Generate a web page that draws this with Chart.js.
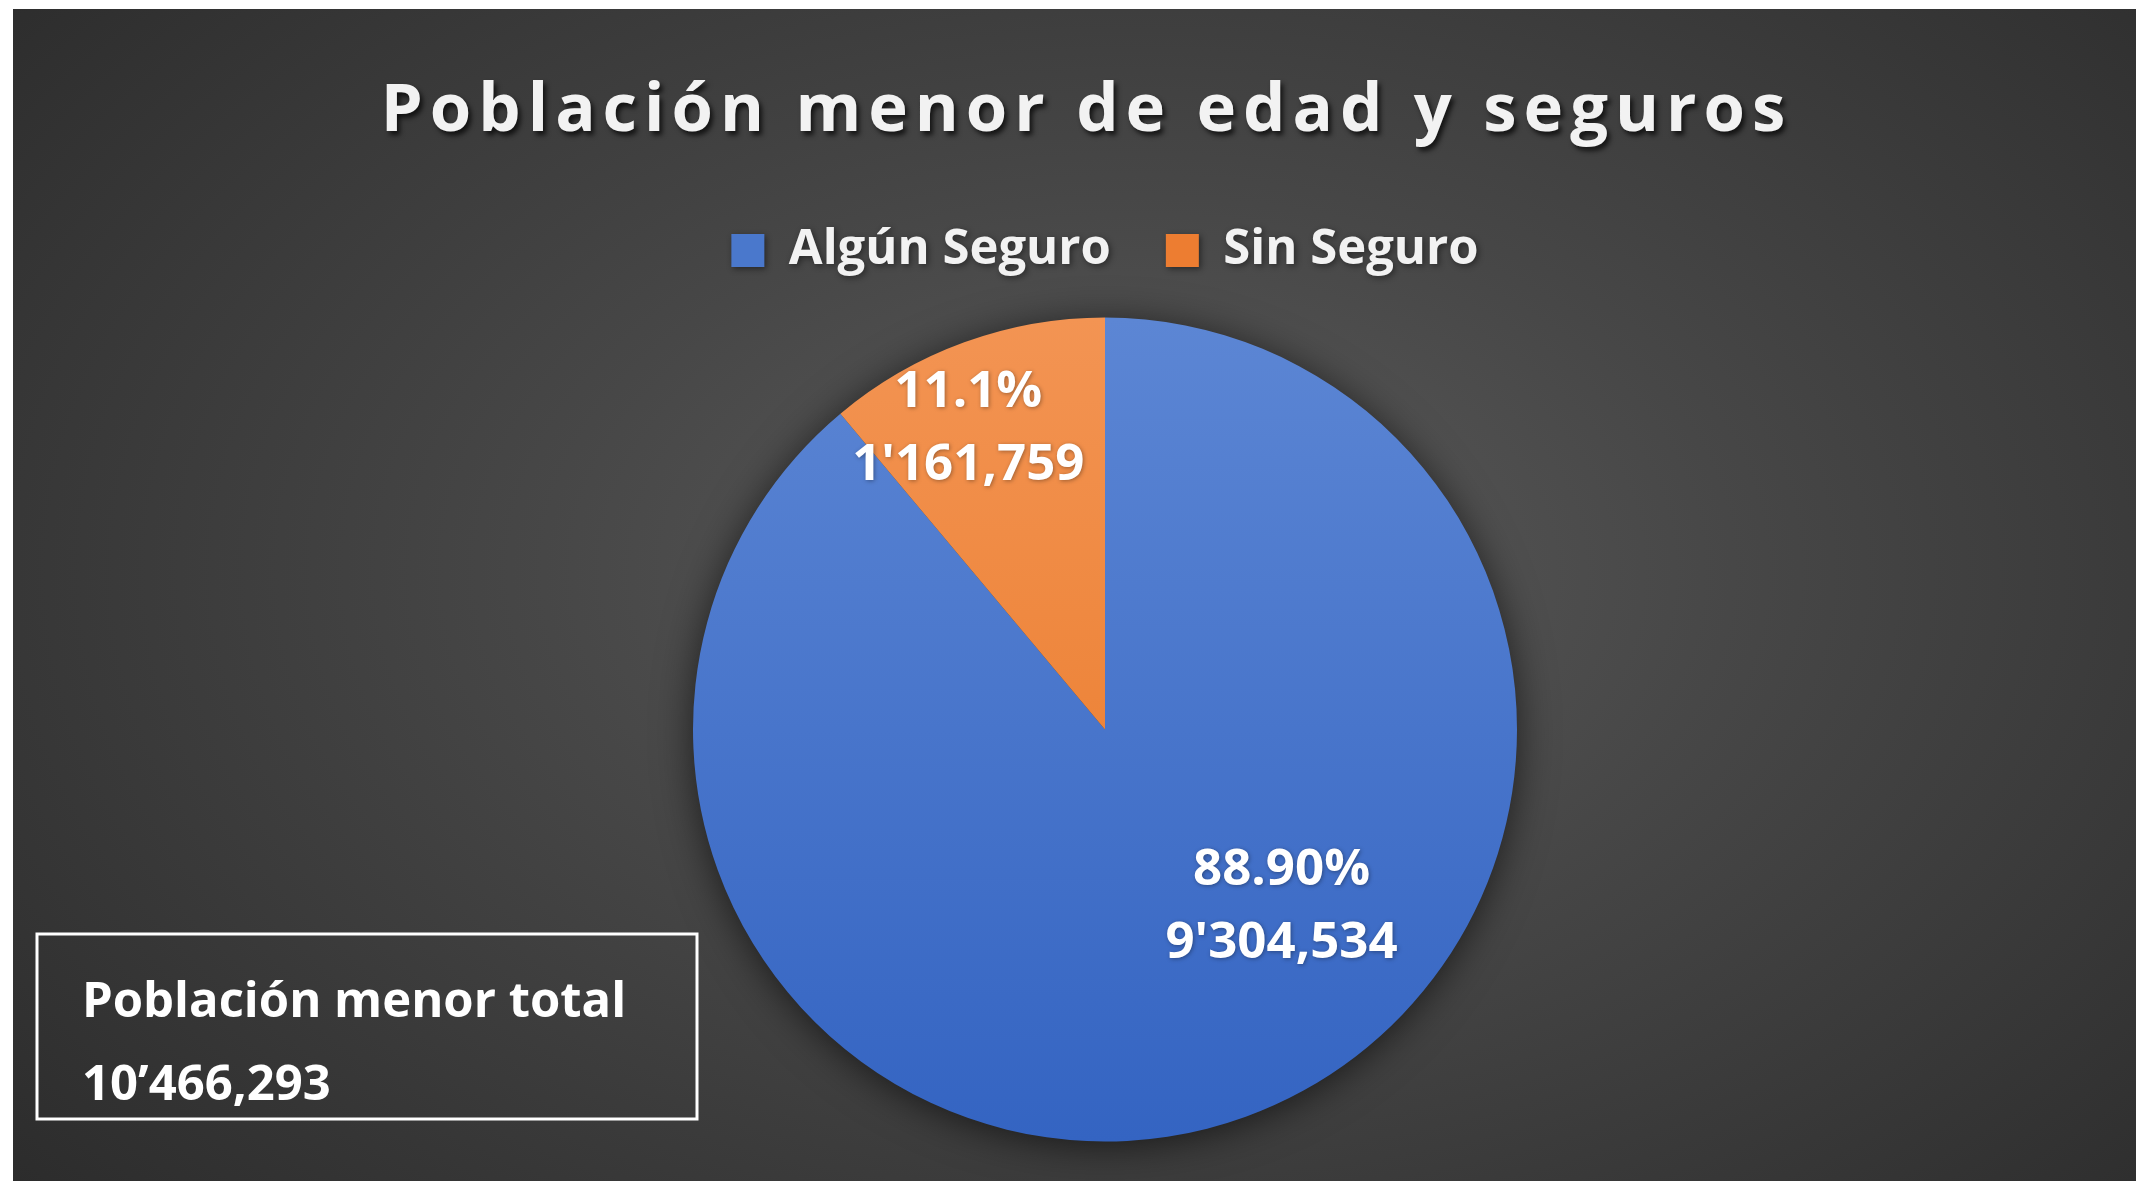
<!DOCTYPE html>
<html lang="es">
<head>
<meta charset="utf-8">
<title>Población menor de edad y seguros</title>
<script src="https://cdn.jsdelivr.net/npm/chart.js@4.4.1/dist/chart.umd.min.js"></script>
<style>
    html, body { margin: 0; padding: 0; background: #fff; }
    #wrap {
        position: absolute;
        left: 13px;
        top: 9px;
        width: 2123px;
        height: 1172px;
        background: radial-gradient(ellipse 70% 80% at 53% 48%, #5b5b5b 0%, #474747 40%, #2c2c2c 100%);
    }
    canvas { display: block; }
</style>
</head>
<body>
<div id="wrap"><canvas id="pieChart"></canvas></div>
<script>
const chartTitle = 'Población menor de edad y seguros';
const categories = ['Algún Seguro', 'Sin Seguro'];
const values = [9304534, 1161759];
const percentLabels = ['88.90%', '11.1%'];
const totalLabel = 'Población menor total';

// top / bottom colour of each slice gradient
const sliceColors = [['#5c86d4', '#3464c2'], ['#f39453', '#e87521']];
const legendColors = ['#4a78cc', '#ed7d31'];
const FONT = '"Open Sans", "Noto Sans", sans-serif';

// 9304534 -> 9'304,534
function formatMillions(v, sep = "'") {
    const m = Math.floor(v / 1e6);
    const rest = String(v % 1e6).padStart(6, '0');
    return m + sep + rest.slice(0, 3) + ',' + rest.slice(3);
}

function sliceGradient(context) {
    const i = context.dataIndex;
    const chart = context.chart;
    const area = chart.chartArea;
    if (!area) return sliceColors[i][1];
    const r = chart.options.radius;
    const cy = (area.top + area.bottom) / 2;
    const g = chart.ctx.createLinearGradient(0, cy - r, 0, cy + r);
    g.addColorStop(0, sliceColors[i][0]);
    g.addColorStop(1, sliceColors[i][1]);
    return g;
}

const pieDecor = {
    id: 'pieDecor',
    beforeDraw(chart) {
        // soft shadow for legend
        const ctx = chart.ctx;
        ctx.shadowColor = 'rgba(0,0,0,0.45)';
        ctx.shadowBlur = 6;
        ctx.shadowOffsetX = 2;
        ctx.shadowOffsetY = 2;
    },
    beforeDatasetsDraw(chart) {
        const ctx = chart.ctx;
        ctx.shadowColor = 'transparent';
        ctx.shadowBlur = 0;
        ctx.shadowOffsetX = 0;
        ctx.shadowOffsetY = 0;
        const arc = chart.getDatasetMeta(0).data[0];
        if (!arc) return;
        const p = arc.getProps(['x', 'y', 'outerRadius'], true);
        ctx.save();
        ctx.shadowColor = 'rgba(0,0,0,0.65)';
        ctx.shadowBlur = 40;
        ctx.shadowOffsetY = 4;
        ctx.fillStyle = '#3a3a3a';
        ctx.beginPath();
        ctx.arc(p.x, p.y, p.outerRadius - 2, 0, Math.PI * 2);
        ctx.fill();
        ctx.restore();
    },
    afterDraw(chart, args, opts) {
        const ctx = chart.ctx;
        ctx.save();

        // slice labels
        ctx.fillStyle = '#ffffff';
        ctx.textAlign = 'center';
        ctx.textBaseline = 'alphabetic';
        ctx.font = 'bold 51px ' + FONT;
        ctx.shadowColor = 'rgba(0,0,0,0.35)';
        ctx.shadowBlur = 4;
        ctx.shadowOffsetX = 1;
        ctx.shadowOffsetY = 1;
        chart.getDatasetMeta(0).data.forEach((arc, i) => {
            const p = arc.getProps(['x', 'y', 'startAngle', 'endAngle', 'outerRadius'], true);
            const spot = opts.spots[i];
            const a = p.startAngle + (p.endAngle - p.startAngle) * spot.frac;
            const cx = p.x + Math.cos(a) * p.outerRadius * spot.dist;
            const cy = p.y + Math.sin(a) * p.outerRadius * spot.dist;
            ctx.fillText(percentLabels[i], cx, cy - 18);
            ctx.fillText(formatMillions(values[i]), cx, cy + 55);
        });

        // title with letter spacing
        ctx.font = 'bold 67px ' + FONT;
        ctx.fillStyle = '#f2f2f2';
        ctx.shadowColor = 'rgba(0,0,0,0.7)';
        ctx.shadowBlur = 5;
        ctx.shadowOffsetX = 3;
        ctx.shadowOffsetY = 4;
        if ('letterSpacing' in ctx) ctx.letterSpacing = '7px';
        ctx.fillText(chartTitle, chart.width / 2 + opts.titleShift, opts.titleY);
        if ('letterSpacing' in ctx) ctx.letterSpacing = '0px';

        // total box
        ctx.shadowColor = 'transparent';
        ctx.shadowBlur = 0;
        ctx.shadowOffsetX = 0;
        ctx.shadowOffsetY = 0;
        const b = opts.box;
        ctx.strokeStyle = '#ffffff';
        ctx.lineWidth = 3;
        ctx.strokeRect(b.x, b.y, b.w, b.h);
        ctx.textAlign = 'left';
        ctx.fillStyle = '#ffffff';
        ctx.font = 'bold 49px ' + FONT;
        const total = values.reduce((s, v) => s + v, 0);
        ctx.fillText(totalLabel, b.x + 45, b.y + 83);
        ctx.fillText(formatMillions(total, '\u2019'), b.x + 45, b.y + 166);

        ctx.restore();
    }
};

function draw() {
    const ctx = document.getElementById('pieChart').getContext('2d');
    new Chart(ctx, {
        type: 'pie',
        data: {
            labels: categories,
            datasets: [{
                data: values,
                backgroundColor: sliceGradient,
                borderWidth: 0,
                hoverOffset: 0
            }]
        },
        options: {
            responsive: true,
            maintainAspectRatio: false,
            animation: false,
            events: [],
            radius: 412,
            layout: {
                padding: { top: 162, left: 61, right: 0, bottom: 7 }
            },
            plugins: {
                tooltip: { enabled: false },
                title: { display: false },
                legend: {
                    position: 'top',
                    labels: {
                        color: '#f2f2f2',
                        font: { family: FONT, size: 49, weight: 'bold' },
                        boxWidth: 33,
                        boxHeight: 33,
                        padding: 55,
                        generateLabels(chart) {
                            const items = Chart.overrides.pie.plugins.legend.labels.generateLabels(chart);
                            items.forEach((item, i) => {
                                item.fillStyle = legendColors[i];
                                item.strokeStyle = legendColors[i];
                                item.lineWidth = 0;
                            });
                            return items;
                        }
                    }
                },
                pieDecor: {
                    spots: [{ frac: 0.42, dist: 0.6 }, { frac: 0.395, dist: 0.81 }],
                    titleShift: 12,
                    titleY: 122,
                    box: { x: 24, y: 925, w: 660, h: 185 }
                }
            }
        },
        plugins: [pieDecor]
    });
}

if (document.fonts && document.fonts.load) {
    document.fonts.load('bold 49px "Open Sans"').then(draw, draw);
} else {
    draw();
}
</script>
</body>
</html>
